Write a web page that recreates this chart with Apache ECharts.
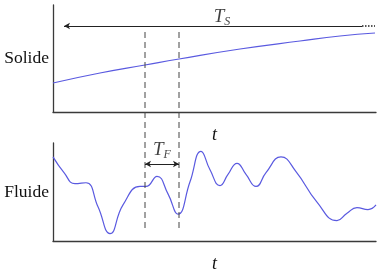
<!DOCTYPE html>
<html><head><meta charset="utf-8">
<script src="https://cdn.jsdelivr.net/npm/echarts@6/dist/echarts.min.js"></script>
<style>html,body{margin:0;padding:0;background:#fff}#c{width:378px;height:274px}</style>
</head><body><div id="c"></div>
<script>
// time samples and signal levels (arbitrary units)
const solidT = [0, 47, 92, 126, 187, 247, 287, 322];
const solidY = [29, 39, 47, 53, 63, 71, 76, 79];
const fluidT = [0,11,22,33,45,57,70,87,93,104,115,125,137,148,157,167,175,184,193,203,213,228,243,264,284,294,304,315,323];
const fluidY = [91,74,62,63,37,8,39,59,59,70,51,29,64,97,77,60,72,84,72,59,74,91,75,42,22,30,36,34,39];
// annotation positions (time units; vertical in overlay units)
const dashT = [92, 126];
const dashSpan = [32, 230];
const tsArrow = {from: 309, to: 11, y: 26, dotsEnd: 322};
const tfArrow = {from: 92, to: 126, y: 164};
const tsLabel = {t: 169, y: 17};
const tfLabel = {t: 109, y: 150};

const serif = 'Liberation Serif';
const lineColor = '#5a5ae0';
const axisColor = '#3a3a3a';

const chart = echarts.init(document.getElementById('c'), null, {renderer: 'canvas'});
const xBase = (gi, name) => ({
  type: 'value', gridIndex: gi, min: 0, max: 323, show: true,
  axisLine: {show: name !== null, lineStyle: {color: axisColor, width: 1.3}},
  axisTick: {show: false}, axisLabel: {show: false}, splitLine: {show: false},
  name: name || '', nameLocation: 'middle', nameGap: 14,
  nameTextStyle: {fontFamily: serif, fontStyle: 'italic', fontSize: 18, color: '#111'}
});
const yBase = (gi, name, max) => ({
  type: 'value', gridIndex: gi, min: 0, max: max,
  axisLine: {show: name !== null, lineStyle: {color: axisColor, width: 1.3}},
  axisTick: {show: false}, axisLabel: {show: false}, splitLine: {show: false},
  name: name || '', nameLocation: 'middle', nameRotate: 0, nameGap: 4,
  nameTextStyle: {fontFamily: serif, fontSize: 17.5, color: '#111', align: 'right'}
});
const rich = {
  T: {fontFamily: serif, fontStyle: 'italic', fontSize: 19, color: '#111'},
  s: {fontFamily: serif, fontStyle: 'italic', fontSize: 12, color: '#111', padding: [9, 0, 0, 0]}
};
chart.setOption({
  animation: false,
  grid: [
    {left: 53, right: 2, top: 5, height: 107},
    {left: 53, right: 2, top: 143, height: 106},
    {left: 53, right: 2, top: 0, bottom: 0}
  ],
  xAxis: [xBase(0, 't'), xBase(1, 't'), Object.assign(xBase(2, null), {show: false})],
  yAxis: [yBase(0, 'Solide', 107), yBase(1, 'Fluide', 106), Object.assign(yBase(2, null, 274), {inverse: true, show: false})],
  series: [
    {type: 'line', xAxisIndex: 0, yAxisIndex: 0, data: solidT.map((t, i) => [t, solidY[i]]),
     smooth: true, showSymbol: false, lineStyle: {color: lineColor, width: 1.2}},
    {type: 'line', xAxisIndex: 1, yAxisIndex: 1, data: fluidT.map((t, i) => [t, fluidY[i]]),
     smooth: 0.5, showSymbol: false, lineStyle: {color: lineColor, width: 1.2}},
    ...dashT.map(t => ({type: 'line', xAxisIndex: 2, yAxisIndex: 2, data: [[t, dashSpan[0]], [t, dashSpan[1]]],
      showSymbol: false, lineStyle: {color: '#444', width: 1, type: [6, 4]}})),
    {type: 'line', xAxisIndex: 2, yAxisIndex: 2, data: [], silent: true,
     markLine: {silent: true, animation: false, label: {show: false},
       data: [
         [{coord: [tsArrow.from, tsArrow.y], symbol: 'none'}, {coord: [tsArrow.to, tsArrow.y], symbol: 'arrow', symbolSize: [5, 6]}],
         [{coord: [tfArrow.from, tfArrow.y], symbol: 'arrow', symbolSize: [5, 6]}, {coord: [tfArrow.to, tfArrow.y], symbol: 'arrow', symbolSize: [5, 6]}]
       ],
       lineStyle: {color: '#222', width: 1, type: 'solid'}}},
    {type: 'line', xAxisIndex: 2, yAxisIndex: 2, data: [], silent: true,
     markLine: {silent: true, animation: false, label: {show: false}, symbol: 'none',
       data: [[{coord: [tsArrow.from, tsArrow.y]}, {coord: [tsArrow.dotsEnd, tsArrow.y]}]],
       lineStyle: {color: '#222', width: 1.5, type: [1.5, 1.5]}}},
    {type: 'scatter', xAxisIndex: 2, yAxisIndex: 2, symbolSize: 0, silent: true,
     data: [
       {value: [tsLabel.t, tsLabel.y], label: {show: true, position: 'inside', formatter: '{T|T}{s|S}', rich: rich}},
       {value: [tfLabel.t, tfLabel.y], label: {show: true, position: 'inside', formatter: '{T|T}{s|F}', rich: rich}}
     ]}
  ]
});
</script></body></html>
